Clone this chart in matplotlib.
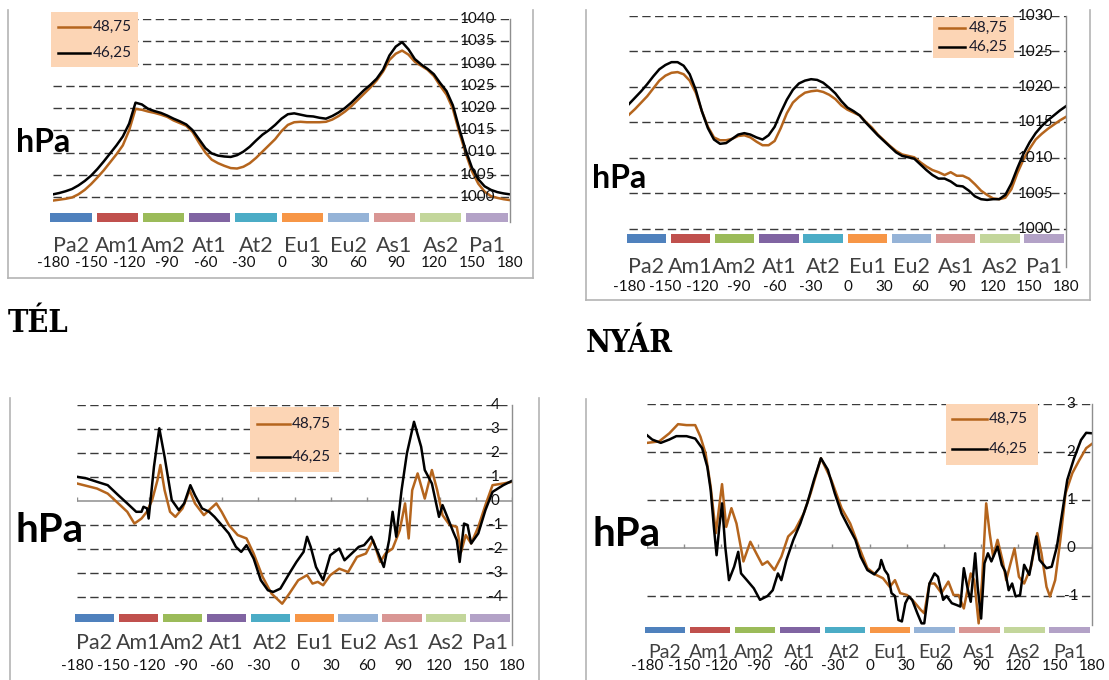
import matplotlib
matplotlib.use("Agg")
import matplotlib.pyplot as plt
from matplotlib.lines import Line2D
from matplotlib.patches import Rectangle

# ---------------- data ----------------
lon5 = list(range(-180, 181, 5))

tel_p_4625 = [1000.6, 1000.9, 1001.3, 1001.8, 1002.6, 1003.6, 1004.8, 1006.3, 1008.0, 1009.8, 1011.6, 1013.6, 1016.5,
              1021.2, 1020.8, 1019.8, 1019.3, 1018.9, 1018.3, 1017.6, 1017.0, 1016.3, 1015.0, 1013.0, 1011.0,
              1009.8, 1009.3, 1009.1, 1009.0, 1009.4, 1010.2, 1011.3, 1012.7, 1014.0, 1015.0, 1016.2, 1017.6,
              1018.6, 1018.8, 1018.5, 1018.2, 1018.1, 1017.8, 1017.6, 1018.2, 1019.0, 1020.0, 1021.2, 1022.6,
              1024.0, 1025.2, 1026.6, 1028.6, 1031.8, 1033.8, 1034.8, 1033.2, 1031.0, 1029.8, 1028.8, 1027.6,
              1025.6, 1023.8, 1020.6, 1015.4, 1010.6, 1006.6, 1004.0, 1002.4, 1001.6, 1001.1, 1000.8, 1000.6]
tel_p_4875 = [999.2, 999.4, 999.6, 999.9, 1000.6, 1001.6, 1002.9, 1004.4, 1006.0, 1007.8, 1009.6, 1011.6, 1015.0,
              1019.8, 1019.6, 1019.2, 1018.9, 1018.5, 1018.0, 1017.2, 1016.6, 1016.0, 1014.6, 1012.2, 1010.0,
              1008.4, 1007.6, 1007.0, 1006.5, 1006.4, 1006.8, 1007.6, 1008.8, 1010.2, 1011.6, 1013.0, 1014.8,
              1016.2, 1016.8, 1016.9, 1016.8, 1016.8, 1016.8, 1016.9, 1017.4, 1018.2, 1019.2, 1020.4, 1021.8,
              1023.2, 1024.6, 1026.2, 1028.2, 1030.8, 1032.2, 1032.9, 1032.0, 1030.4, 1029.5, 1028.6, 1027.2,
              1025.0, 1023.0, 1019.8, 1014.6, 1009.9, 1005.8, 1003.0, 1001.2, 1000.2, 999.8, 999.5, 999.3]

nyar_p_4625 = [1017.6, 1018.5, 1019.4, 1020.4, 1021.5, 1022.5, 1023.1, 1023.5, 1023.5, 1023.0, 1021.8, 1019.6, 1016.6,
               1014.2, 1012.6, 1012.0, 1012.1, 1012.7, 1013.3, 1013.5, 1013.3, 1012.9, 1012.6, 1013.2, 1014.4,
               1016.4, 1018.2, 1019.6, 1020.5, 1020.9, 1021.1, 1021.0, 1020.6, 1019.9, 1019.1, 1018.0, 1017.1,
               1016.6, 1016.0, 1015.0, 1014.1, 1013.2, 1012.4, 1011.6, 1010.8, 1010.3, 1010.1, 1009.9, 1009.1,
               1008.3, 1007.6, 1007.1, 1007.1, 1006.7, 1006.1, 1006.0, 1005.4, 1004.6, 1004.2, 1004.1, 1004.2,
               1004.2, 1004.8, 1006.4, 1008.6, 1010.6, 1012.2, 1013.5, 1014.5, 1015.3, 1016.0, 1016.7, 1017.3]
nyar_p_4875 = [1016.1, 1016.9, 1017.8, 1018.7, 1019.8, 1020.9, 1021.6, 1022.0, 1022.1, 1021.8, 1020.9, 1019.2, 1016.6,
               1014.4, 1012.9, 1012.5, 1012.5, 1012.7, 1013.1, 1013.2, 1012.9, 1012.3, 1011.8, 1011.8, 1012.4,
               1014.2, 1016.3, 1017.8, 1018.6, 1019.2, 1019.4, 1019.5, 1019.3, 1018.9, 1018.3, 1017.4, 1016.8,
               1016.4, 1016.0, 1015.1, 1014.3, 1013.3, 1012.5, 1011.7, 1011.0, 1010.5, 1010.3, 1010.1, 1009.4,
               1008.8, 1008.3, 1008.0, 1007.6, 1008.0, 1007.5, 1007.5, 1007.1, 1006.3, 1005.4, 1004.8, 1004.3,
               1004.2, 1004.4, 1005.6, 1007.9, 1009.8, 1011.3, 1012.6, 1013.4, 1014.1, 1014.7, 1015.3, 1015.8]

tel_d_4625_lon = [-180, -172, -163.5, -154.6, -145.8, -138.4, -131, -126.6, -125, -122, -120.7, -116.3, -111.9,
                  -107.5, -101.6, -95.7, -91.3, -86.2, -82.4, -76.5, -70.6, -66.2, -60.3, -54.4, -48.5, -44.1,
                  -39.7, -33.8, -27.9, -22, -17.6, -11.7, -4.3, 1.6, 7.5, 10.4, 13.4, 17.8, 23.7, 29.6, 37, 41.4,
                  47.3, 53.2, 57.6, 63.5, 69.4, 73.9, 78.3, 81.2, 84.2, 88.6, 93, 98.9, 104.8, 107.8, 113.7, 119.6,
                  122.5, 127, 131.4, 134.3, 136.7, 140.3, 143.2, 146.2, 152.1, 158, 163.9, 172.8, 180]
tel_d_4625 = [1.01, 0.94, 0.8, 0.66, 0.24, -0.1, -0.45, -0.45, -0.24, -0.31, -0.73, 1.43, 3.03, 1.84, 0.04, -0.38,
              -0.1, 0.66, 0.24, -0.31, -0.45, -0.66, -1.0, -1.35, -1.91, -2.12, -1.84, -2.4, -3.3, -3.72, -3.79,
              -3.65, -3.02, -2.54, -2.12, -1.49, -1.91, -2.75, -3.3, -2.26, -1.98, -2.47, -2.19, -1.91, -1.84,
              -1.49, -2.19, -2.75, -1.63, -0.45, -1.49, 0.45, 1.98, 3.3, 2.26, 1.29, 0.73, -0.66, -0.17, -0.73,
              -1.29, -1.63, -2.54, -0.94, -1.0, -1.77, -1.35, -0.38, 0.38, 0.66, 0.84]
tel_d_4875_lon = [-180, -163.5, -154.6, -145.8, -138.4, -132.5, -126.6, -122.2, -117.8, -113.4, -111, -107.5, -103,
                  -98.6, -92.7, -86.8, -82.4, -75, -69.2, -64.7, -60.3, -54.4, -47, -39.7, -33.8, -26.4, -19,
                  -10.2, -4.3, 3.1, 10.4, 14.9, 19.3, 23.7, 29.6, 37, 44.4, 51.7, 59.1, 65, 70.9, 75.3, 81.2, 87.1,
                  91.5, 94.5, 97.4, 101.9, 107.8, 113.7, 118.1, 122.5, 128.4, 134.3, 137.9, 141.7, 146.2, 152.1,
                  158, 163.9, 172.8, 180]
tel_d_4875 = [0.73, 0.52, 0.31, -0.1, -0.45, -0.94, -0.73, -0.45, 0.04, 0.87, 1.5, 0.45, -0.45, -0.66, -0.31, 0.45,
              -0.1, -0.59, -0.31, -0.1, -0.45, -1.0, -1.42, -1.56, -2.19, -3.16, -3.86, -4.28, -3.86, -3.3, -3.09,
              -3.44, -3.37, -3.51, -3.09, -2.82, -2.96, -2.33, -2.19, -1.63, -2.54, -2.19, -1.98, -1.22, -0.1,
              -1.56, 0.45, 1.15, 0.1, 1.29, 0.45, -0.59, -1.0, -1.08, -2.12, -1.42, -1.77, -1.08, -0.17, 0.66,
              0.73, 0.8]

nyar_d_4625_lon = [-180, -175.8, -168.9, -161.9, -156.3, -148, -141, -135.4, -131.2, -128.5, -125.7, -123.7, -121.5,
                   -119.3, -116.7, -113.7, -109.5, -106.2, -103.9, -99.2, -93.6, -88.6, -82.5, -78.3, -74.1, -71.3,
                   -67.2, -61.6, -56, -50.4, -44.9, -39.3, -33.7, -28.1, -22.6, -17, -11.4, -7.2, -1.7, 3.9, 8.1,
                   9.5, 12.3, 15, 17.8, 20.6, 23.4, 26.2, 29, 31.8, 34.5, 38.7, 42.1, 44.3, 48.5, 52.6, 55.4, 59.6,
                   62.4, 66.6, 70.7, 73.5, 76.3, 79.1, 81.9, 85.5, 87.5, 90.3, 93, 95.8, 98.6, 103.6, 107, 109.8,
                   112.6, 115.4, 118.2, 121.8, 125.1, 129.3, 134.9, 137.6, 143.2, 147.4, 151.6, 155.8, 160, 165.5,
                   171.1, 175.3, 180]
nyar_d_4625 = [2.35, 2.26, 2.19, 2.26, 2.33, 2.33, 2.28, 2.08, 1.69, 1.21, 0.38, -0.15, 0.44, 0.93, 0.03, -0.67,
               -0.39, -0.08, -0.53, -0.67, -0.84, -1.08, -1.0, -0.88, -0.53, -0.67, -0.25, 0.17, 0.51, 0.93, 1.42,
               1.87, 1.63, 1.14, 0.72, 0.44, 0.17, -0.18, -0.46, -0.55, -0.42, -0.25, -0.46, -0.56, -0.94, -1.0,
               -1.5, -1.53, -1.15, -1.01, -1.08, -1.36, -1.57, -1.57, -0.74, -0.53, -0.6, -1.08, -1.0, -1.15,
               -1.19, -1.22, -0.42, -0.81, -1.12, -0.11, -0.81, -1.47, -0.32, -0.11, -0.28, 0.03, -0.35, -0.49,
               -0.88, -0.74, -1.01, -0.98, -0.35, -0.56, 0.24, -0.25, -0.42, -0.39, 0.03, 0.72, 1.42, 1.87, 2.25,
               2.4, 2.39]
nyar_d_4875_lon = [-180, -170.2, -161.9, -154.9, -148, -141, -136.8, -132.6, -128.5, -124.3, -119.3, -115.9, -111.7,
                   -107.6, -102, -96.4, -90.8, -86.7, -82.5, -76.9, -71.3, -65.8, -60.2, -53.2, -47.6, -39.3, -30.9,
                   -22.6, -15.6, -8.6, -1.7, 5.3, 10.9, 16.4, 20.6, 24.8, 30.4, 36, 41.5, 44.3, 48.5, 52.6, 58.2,
                   63.8, 68, 72.1, 76.3, 81.9, 84.7, 88.3, 91.1, 94.4, 97.2, 100, 103.6, 107.8, 110.6, 113.4, 117.3,
                   120.9, 125.1, 130.7, 135.7, 139.1, 143.2, 146, 150.2, 154.4, 158.6, 164.1, 169.7, 175.3, 180]
nyar_d_4875 = [2.19, 2.22, 2.39, 2.58, 2.56, 2.56, 2.32, 1.97, 1.28, 0.31, 1.33, 0.44, 0.83, 0.51, -0.28, 0.13,
               -0.15, -0.35, -0.28, -0.46, -0.18, 0.24, 0.38, 0.72, 1.14, 1.87, 1.42, 0.83, 0.51, 0.03, -0.42,
               -0.56, -0.63, -0.81, -0.67, -0.94, -0.98, -1.12, -1.29, -1.36, -0.74, -0.74, -0.94, -0.7, -0.98,
               -0.98, -1.26, -0.53, -0.67, -1.57, -0.67, 0.93, 0.31, -0.18, 0.17, -0.28, -0.67, -0.39, -0.01,
               -0.6, -0.74, -0.39, 0.31, -0.11, -0.81, -1.01, -0.67, 0.17, 1.14, 1.56, 1.83, 2.08, 2.17]

regions = ["Pa2", "Am1", "Am2", "At1", "At2", "Eu1", "Eu2", "As1", "As2", "Pa1"]
region_colors = ["#4F81BD", "#C0504D", "#9BBB59", "#8064A2", "#4BACC6",
                 "#F79646", "#95B3D7", "#D99694", "#C3D69B", "#B3A2C7"]
lon_ticks = [-180, -150, -120, -90, -60, -30, 0, 30, 60, 90, 120, 150, 180]
legend_labels = ["48,75", "46,25"]
yt1 = [1000, 1005, 1010, 1015, 1020, 1025, 1030, 1035, 1040]
yt2 = [1000, 1005, 1010, 1015, 1020, 1025, 1030]
yt3 = [-4, -3, -2, -1, 0, 1, 2, 3, 4]
yt4 = [-1, 0, 1, 2, 3]

# ---------------- styling / layout ----------------
W, H = 1109, 680
ORANGE = "#B5651D"
BLACK = "#000000"
GRID = "#3a3a3a"
FRAME = "#b4b4b4"
AXIS = "#8e8e8e"
PEACH = "#FCD5B5"
FONT = ["Lato", "DejaVu Sans"]

plt.rcParams["font.family"] = FONT
fig = plt.figure(figsize=(W / 100, H / 100), dpi=100)


def fx(px):
    return px / W


def fy(py):
    return 1 - py / H


def fline(x1, y1, x2, y2, **kw):
    fig.add_artist(Line2D([fx(x1), fx(x2)], [fy(y1), fy(y2)], transform=fig.transFigure, **kw))


def ftext(x, y, s, **kw):
    fig.text(fx(x), fy(y), s, **kw)


def panel(L, R, T, B, ytop, ppu, yticks, series, zero_line, bar_px, reg_y, lon_y, axis_end,
          tick_x, hpa, hpa_size, legend, reg_size):
    ymin = ytop - (B - T) / ppu
    ax = fig.add_axes([fx(L), fy(B), fx(R) - fx(L), (B - T) / H])
    ax.set_xlim(-180, 180)
    ax.set_ylim(ymin, ytop)
    ax.axis("off")

    def val(py):
        return ytop - (py - T) / ppu

    for v in yticks:
        if zero_line and v == 0:
            ax.axhline(0, color=AXIS, lw=1.1, zorder=1)
            tick_h = 4 / ppu
            ax.vlines(lon_ticks, 0, tick_h, color=AXIS, lw=1.0, zorder=1)
        else:
            ax.axhline(v, color=GRID, lw=1.0, dashes=(6, 3.2), zorder=1)
        py = T + (ytop - v) * ppu
        lab = str(v) if v >= 0 else "-" + str(-v)
        ftext(tick_x, py, lab, ha="center", va="center", fontsize=11, color="#111111")

    # colored region bar
    starts = [-182 + 36.4 * i for i in range(10)]
    y0, y1 = val(bar_px[1]), val(bar_px[0])
    ax.bar(starts, y1 - y0, bottom=y0, width=32.5, align="edge", color=region_colors,
           clip_on=False, zorder=2)
    for s, name in zip(starts, regions):
        ax.text(s + 16.25, val(reg_y), name, ha="center", va="center", fontsize=reg_size,
                color="#404040", clip_on=False)
    for lt in lon_ticks:
        ax.text(lt, val(lon_y), str(lt) if lt >= 0 else "-" + str(-lt), ha="center", va="center",
                fontsize=11, color="#111111", clip_on=False)

    for (xs, ys, col) in series:
        ax.plot(xs, ys, color=col, lw=1.8, zorder=3, solid_joinstyle="round")

    # right axis line
    fline(R, T, R, axis_end, color=AXIS, lw=1.0)

    # hPa
    ftext(hpa[0], hpa[1], "hPa", ha="center", va="center", fontsize=hpa_size,
          fontweight="bold", color="#000000")

    # legend
    bx0, by0, bx1, by1, lx0, lx1, ly_a, ly_b, tx = legend
    fig.add_artist(Rectangle((fx(bx0), fy(by1)), fx(bx1) - fx(bx0), (by1 - by0) / H,
                             transform=fig.transFigure, facecolor=PEACH, edgecolor="none", zorder=4))
    for ly, col, lab in [(ly_a, ORANGE, legend_labels[0]), (ly_b, BLACK, legend_labels[1])]:
        fig.add_artist(Line2D([fx(lx0), fx(lx1)], [fy(ly), fy(ly)], transform=fig.transFigure,
                              color=col, lw=1.8, zorder=5))
        ftext(tx, ly, lab, ha="left", va="center", fontsize=11, color="#1a1a2a", zorder=6)
    return ax


# Panel 1: TÉL pressure
panel(53, 510, 19, 222, 1040, 4.45, yt1,
      [(lon5, tel_p_4875, ORANGE), (lon5, tel_p_4625, BLACK)],
      False, (213, 222), 246, 263, 222, 478, (43, 143), 23,
      (51, 12, 138, 67, 58, 90, 27, 53, 93), 15.5)
# Panel 2: NYÁR pressure
panel(629, 1066, 16, 243, 1030, 7.1, yt2,
      [(lon5, nyar_p_4875, ORANGE), (lon5, nyar_p_4625, BLACK)],
      False, (234, 243), 267, 287, 267, 1036, (619, 179), 23,
      (933, 17, 1014, 58, 939, 965, 28, 47, 969), 15.5)
# Panel 3: TÉL difference
panel(77, 512, 405, 622, 4, 24, yt3,
      [(tel_d_4875_lon, tel_d_4875, ORANGE), (tel_d_4625_lon, tel_d_4625, BLACK)],
      True, (614, 622), 643, 666, 645, 495, (50, 530), 29,
      (250, 407, 339, 472, 257, 290, 424, 457, 292), 15.5)
# Panel 4: NYÁR difference
panel(647, 1092, 404, 633, 3, 48, yt4,
      [(nyar_d_4875_lon, nyar_d_4875, ORANGE), (nyar_d_4625_lon, nyar_d_4625, BLACK)],
      True, (627, 633), 652, 666, 625, 1071, (627, 535), 29,
      (946, 404, 1038, 465, 952, 987, 419, 449, 989), 14)

# frames
fline(8, 10, 8, 278, color=FRAME, lw=1.2)
fline(533, 10, 533, 278, color=FRAME, lw=1.2)
fline(8, 278, 533, 278, color=FRAME, lw=1.2)
fline(586, 10, 586, 300, color=FRAME, lw=1.2)
fline(1090, 10, 1090, 300, color=FRAME, lw=1.2)
fline(586, 300, 1090, 300, color=FRAME, lw=1.2)
fline(10, 398, 10, 680, color=FRAME, lw=1.2)
fline(539, 398, 539, 680, color=FRAME, lw=1.2)
fline(586, 399, 586, 680, color=FRAME, lw=1.2)

# season titles
ftext(8, 323, "TÉL", ha="left", va="center", fontsize=22, fontweight="bold",
      family=["DejaVu Serif", "Liberation Serif"], fontstretch="condensed", color="#000000")
ftext(586, 344, "NYÁR", ha="left", va="center", fontsize=22, fontweight="bold",
      family=["DejaVu Serif", "Liberation Serif"], fontstretch="condensed", color="#000000")

fig.savefig("out.png", dpi=100)
